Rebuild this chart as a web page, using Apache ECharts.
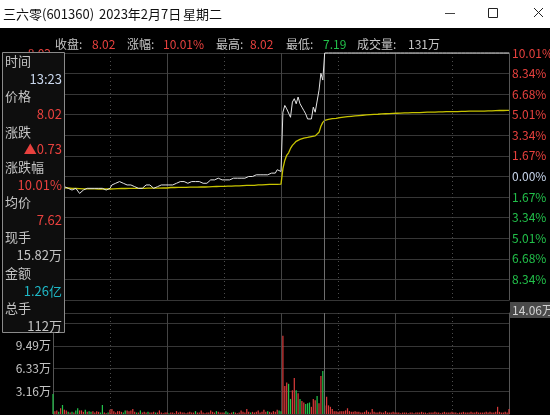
<!DOCTYPE html>
<html><head><meta charset="utf-8">
<script src="https://cdn.jsdelivr.net/npm/echarts@6/dist/echarts.min.js"></script>
<style>html,body{margin:0;padding:0;background:#000;}#c{width:550px;height:415px;}</style>
</head><body><div id="c"></div>
<script>
// ---------- data ----------
const prevClose = 7.29;
const priceMin = 6.56;
const priceMax = 8.02;
const priceStep = 0.1217;
const volMax = 14.06;
const volStep = 3.1625;

// minute prices 09:30 .. 15:00 (241 points)
const prices = [
7.23,7.22,7.23,7.22,7.23,7.22,7.23,7.23,7.22,7.22,
7.21,7.21,7.22,7.23,7.19,7.20,7.21,7.21,7.22,7.22,
7.22,7.23,7.22,7.21,7.22,7.22,7.22,7.21,7.21,7.22,
7.22,7.24,7.25,7.25,7.25,7.26,7.26,7.25,7.24,7.24,
7.25,7.24,7.23,7.23,7.22,7.22,7.22,7.22,7.23,7.24,
7.24,7.24,7.23,7.22,7.23,7.23,7.24,7.24,7.24,7.24,
7.24,7.24,7.24,7.24,7.24,7.25,7.25,7.26,7.26,7.26,
7.25,7.25,7.26,7.26,7.25,7.26,7.26,7.26,7.26,7.25,
7.25,7.25,7.26,7.27,7.27,7.27,7.27,7.28,7.27,7.27,
7.27,7.27,7.27,7.27,7.27,7.28,7.28,7.28,7.28,7.28,
7.28,7.28,7.29,7.29,7.29,7.29,7.29,7.30,7.30,7.30,
7.30,7.30,7.31,7.30,7.31,7.31,7.31,7.31,7.33,7.32,
7.32,7.67,7.71,7.69,7.70,7.64,7.73,7.75,7.72,7.76,
7.72,7.70,7.68,7.66,7.63,7.62,7.63,7.70,7.67,7.66,
7.80,7.90,7.86,8.02,8.02,8.02,8.02,8.02,8.02,8.02,
8.02,8.02,8.02,8.02,8.02,8.02,8.02,8.02,8.02,8.02,
8.02,8.02,8.02,8.02,8.02,8.02,8.02,8.02,8.02,8.02,
8.02,8.02,8.02,8.02,8.02,8.02,8.02,8.02,8.02,8.02,
8.02,8.02,8.02,8.02,8.02,8.02,8.02,8.02,8.02,8.02,
8.02,8.02,8.02,8.02,8.02,8.02,8.02,8.02,8.02,8.02,
8.02,8.02,8.02,8.02,8.02,8.02,8.02,8.02,8.02,8.02,
8.02,8.02,8.02,8.02,8.02,8.02,8.02,8.02,8.02,8.02,
8.02,8.02,8.02,8.02,8.02,8.02,8.02,8.02,8.02,8.02,
8.02,8.02,8.02,8.02,8.02,8.02,8.02,8.02,8.02,8.02,
8.02
];

// average price line
const avgPrices = [
7.230,7.228,7.226,7.225,7.225,7.224,7.223,7.223,7.222,7.221,
7.220,7.219,7.219,7.219,7.218,7.217,7.217,7.217,7.217,7.217,
7.217,7.217,7.217,7.216,7.216,7.216,7.216,7.216,7.216,7.216,
7.216,7.217,7.217,7.218,7.218,7.219,7.219,7.219,7.219,7.219,
7.220,7.220,7.220,7.220,7.220,7.220,7.220,7.220,7.220,7.220,
7.221,7.221,7.221,7.221,7.221,7.221,7.221,7.222,7.222,7.222,
7.222,7.224,7.225,7.225,7.225,7.226,7.226,7.226,7.226,7.226,
7.226,7.226,7.227,7.227,7.227,7.227,7.227,7.227,7.228,7.228,
7.228,7.228,7.229,7.229,7.230,7.230,7.231,7.232,7.232,7.232,
7.232,7.233,7.233,7.233,7.233,7.234,7.234,7.234,7.235,7.235,
7.236,7.236,7.237,7.237,7.237,7.238,7.238,7.239,7.240,7.240,
7.241,7.241,7.242,7.242,7.243,7.243,7.243,7.244,7.244,7.245,
7.245,7.337,7.385,7.415,7.430,7.456,7.474,7.486,7.498,7.504,
7.509,7.513,7.517,7.519,7.521,7.524,7.526,7.527,7.530,7.536,
7.551,7.587,7.610,7.622,7.626,7.628,7.630,7.632,7.633,7.634,
7.636,7.638,7.640,7.641,7.642,7.644,7.645,7.646,7.647,7.648,
7.649,7.650,7.651,7.652,7.653,7.654,7.655,7.656,7.656,7.657,
7.658,7.658,7.659,7.660,7.660,7.661,7.661,7.662,7.662,7.663,
7.663,7.664,7.664,7.665,7.665,7.666,7.666,7.666,7.667,7.667,
7.667,7.668,7.668,7.668,7.669,7.669,7.669,7.670,7.670,7.670,
7.671,7.671,7.671,7.672,7.672,7.672,7.672,7.673,7.673,7.673,
7.673,7.674,7.674,7.674,7.674,7.675,7.675,7.675,7.675,7.676,
7.676,7.676,7.676,7.677,7.677,7.677,7.677,7.677,7.678,7.678,
7.678,7.678,7.678,7.679,7.680,7.680,7.680,7.680,7.681,7.681,
7.681
];

// minute volume (万)
const volumes = [
2.8,0.4,0.5,0.3,0.8,1.25,0.6,0.5,0.3,0.2,
0.3,0.2,0.5,0.8,0.5,0.5,0.3,0.6,0.3,0.4,
0.3,0.4,0.2,0.4,0.3,0.2,1.25,0.2,0.1,0.2,
0.6,0.7,0.4,0.2,0.4,0.4,0.3,0.2,0.5,0.5,
0.4,0.5,0.7,0.3,0.2,0.2,0.5,0.2,0.3,0.2,
0.3,0.2,0.2,0.3,0.2,0.2,0.5,0.2,0.1,0.2,
0.2,0.1,0.2,0.2,0.1,0.4,0.2,0.3,0.2,0.2,
0.1,0.2,0.3,0.2,0.2,0.4,0.2,0.2,0.5,0.2,
0.1,0.2,0.2,0.5,0.3,0.2,0.4,0.3,0.2,0.2,
0.2,0.4,0.2,0.1,0.2,0.3,0.2,0.1,0.2,0.5,
0.3,0.2,0.7,0.3,0.2,0.3,0.2,0.3,0.5,0.2,
0.3,0.6,0.3,0.4,0.3,0.2,0.4,0.3,0.6,0.5,
0.4,10.9,3.9,4.4,4.2,2.1,3.3,5.0,3.3,2.9,
2.1,1.8,1.6,1.4,1.5,1.6,1.0,2.1,1.9,2.5,
1.5,5.3,6.0,1.2,2.4,1.2,1.0,0.7,0.4,0.4,
0.3,0.4,0.4,0.4,0.5,0.8,0.4,0.3,0.3,0.4,
0.3,0.3,0.2,0.2,0.3,0.5,0.3,0.2,0.7,0.3,
0.2,0.2,0.3,0.2,0.2,0.4,0.2,0.2,0.2,0.3,
0.2,0.2,0.2,0.1,0.2,0.2,0.2,0.1,0.2,0.2,
0.1,0.2,0.2,0.2,0.3,0.2,0.2,0.1,0.2,0.2,
0.2,0.3,0.2,0.2,0.1,0.2,0.3,0.2,0.2,0.2,
0.3,0.2,0.2,0.1,0.2,0.2,0.3,0.2,0.2,0.2,
0.3,0.2,0.2,0.3,0.2,0.2,0.2,0.2,0.3,0.2,
0.3,0.2,0.2,0.3,1.0,0.3,0.2,0.2,0.3,0.2,
0.7
];

// minutes whose volume bar is green (down)
const greenBars = [0,3,5,8,10,12,13,17,19,20,25,26,29,37,38,44,46,50,54,61,75,86,91,92,95,104,113,119,120,124,125,128,130,133,134,135,139,142];

// tick labels (bottom -> top)
const priceLabels = ['6.56','6.68','6.80','6.92','7.05','7.17','7.29','7.41','7.54','7.66','7.78','7.90','8.02'];
const pctLabels = ['','8.34%','6.68%','5.01%','3.34%','1.67%','0.00%','1.67%','3.34%','5.01%','6.68%','8.34%','10.01%'];
const volLabels = ['','3.16万','6.33万','9.49万','12.65万'];

// vertical guide times
const dashTimes = ['10:00','11:00','13:30','14:30'];
const solidTimes = ['10:30','11:30','14:00'];
const cursorTime = '13:23';

// ---------- build ----------
function hm(t){const h=Math.floor(t/60),m=t%60;return (h<10?'0':'')+h+':'+(m<10?'0':'')+m;}
const times=[];
for(let t=9*60+30;t<=11*60+30;t++)times.push(hm(t));
for(let t=13*60+1;t<=15*60;t++)times.push(hm(t));

const FONT='"Noto Sans CJK SC","Microsoft YaHei",sans-serif';
const RED='#e8413e', GREEN='#22c04a', PALE='#c8d6ec', GRAY='#c4c4c4', CYAN='#1fb8c6';
const GRID_LINE='#363636';

const markLine={symbol:['none','none'],silent:true,label:{show:false},animation:false,
  data:[{xAxis:cursorTime,lineStyle:{color:'#6e6e6e',type:'solid',width:1}}]};

function tickIdx(v,min,step){return Math.round((v-min)/step);}

const chart=echarts.init(document.getElementById('c'),null,{renderer:'canvas'});

const txt=(x,y,text,fill,size,align)=>({type:'text',x:x,y:y,silent:true,z:110,
  style:{text:text,fill:fill,font:size+'px '+FONT,align:align||'left',verticalAlign:'middle'}});

const panelRows=[
  ['时间','13:23',PALE],['价格','8.02',RED],['涨跌','▲0.73',RED],['涨跌幅','10.01%',RED],
  ['均价','7.62',RED],['现手','15.82万',GRAY],['金额','1.26亿',CYAN],['总手','112万',GRAY]
];
const panelChildren=[{type:'rect',z:100,shape:{x:2.5,y:52.5,width:62,height:280},style:{fill:'#0e0e0e',stroke:'#8a8a8a',lineWidth:1}}];
panelRows.forEach((r,i)=>{
  const y0=61+i*35.3;
  panelChildren.push(txt(5,y0,r[0],GRAY,13,'left'));
  panelChildren.push(txt(62,y0+17.8,r[1],r[2],13,'right'));
});

const graphics=[
  {type:'rect',silent:true,shape:{x:0,y:0,width:550,height:28},style:{fill:'#ffffff'}},
  txt(3,14,'三六零(601360)','#111',13),
  txt(99,14,'2023年2月7日','#111',13),
  txt(183,14,'星期二','#111',13),
  {type:'line',silent:true,shape:{x1:445,y1:13.5,x2:455,y2:13.5},style:{stroke:'#444',lineWidth:1}},
  {type:'rect',silent:true,shape:{x:488.5,y:8.5,width:9,height:9},style:{fill:'none',stroke:'#222',lineWidth:1}},
  {type:'line',silent:true,shape:{x1:534,y1:8,x2:543,y2:17},style:{stroke:'#222',lineWidth:1}},
  {type:'line',silent:true,shape:{x1:543,y1:8,x2:534,y2:17},style:{stroke:'#222',lineWidth:1}},
  txt(55,44,'收盘:',GRAY,12), txt(92,44,'8.02',RED,12),
  txt(127,44,'涨幅:',GRAY,12), txt(163,44,'10.01%',RED,12),
  txt(216,44,'最高:',GRAY,12), txt(250,44,'8.02',RED,12),
  txt(286,44,'最低:',GRAY,12), txt(323,44,'7.19',GREEN,12),
  txt(357,44,'成交量:',GRAY,12), txt(408,44,'131万',GRAY,12),
  {type:'group',children:panelChildren},
  {type:'rect',silent:true,z:100,shape:{x:510,y:302,width:40,height:16},style:{fill:'#4a4a4a'}},
  txt(512,310,'14.06万','#d2d2d2',12)
];

const rich={r:{color:RED,fontSize:12,fontFamily:FONT},g:{color:GREEN,fontSize:12,fontFamily:FONT},w:{color:PALE,fontSize:12,fontFamily:FONT},v:{color:GRAY,fontSize:12,fontFamily:FONT}};
function cls(k){return k<6?'g':(k===6?'w':'r');}

function xAx(grid,list,style){
  return {type:'category',gridIndex:grid,data:times,boundaryGap:false,
    axisLine:{show:false},axisTick:{show:false},axisLabel:{show:false},
    splitLine:{show:true,interval:(i,v)=>list.indexOf(v)>=0,lineStyle:style}};
}
const solidStyle={color:'#444',type:'solid',width:1};
const dashStyle={color:'#4c4c4c',type:[1,3],width:1};

const option={
  backgroundColor:'#000',
  animation:false,
  grid:[
    {left:53,right:41,top:53,height:247,outerBoundsMode:'none',containLabel:false},
    {left:53,right:41,top:313,height:101,outerBoundsMode:'none',containLabel:false}
  ],
  xAxis:[
    xAx(0,solidTimes,solidStyle),
    xAx(1,solidTimes,solidStyle),
    xAx(0,dashTimes,dashStyle),
    xAx(1,dashTimes,dashStyle)
  ],
  yAxis:[
    {type:'value',gridIndex:0,position:'left',min:priceMin,max:priceMax,interval:priceStep,
     axisLine:{show:true,onZero:false,lineStyle:{color:'#555'}},axisTick:{show:false},
     splitLine:{show:true,lineStyle:{color:GRID_LINE,width:1}},
     axisLabel:{margin:2,rich:rich,formatter:v=>{const k=tickIdx(v,priceMin,priceStep);return '{'+cls(k)+'|'+priceLabels[k]+'}';}}},
    {type:'value',gridIndex:0,position:'right',min:priceMin,max:priceMax,interval:priceStep,
     axisLine:{show:true,onZero:false,lineStyle:{color:'#555'}},axisTick:{show:false},splitLine:{show:false},
     axisLabel:{margin:3,rich:rich,formatter:v=>{const k=tickIdx(v,priceMin,priceStep);const s=pctLabels[k]||'';return s?'{'+cls(k)+'|'+s+'}':'';}}},
    {type:'value',gridIndex:1,position:'left',min:0,max:volMax,interval:volStep,
     axisLine:{show:true,onZero:false,lineStyle:{color:'#555'}},axisTick:{show:false},
     splitLine:{show:true,lineStyle:{color:GRID_LINE,width:1}},
     axisLabel:{margin:2,rich:rich,formatter:v=>{if(Math.abs(v-volMax)<1e-6)return '';const s=volLabels[tickIdx(v,0,volStep)]||'';return s?'{v|'+s+'}':'';}}},
    {type:'value',gridIndex:1,position:'right',min:0,max:volMax,
     axisLine:{show:true,onZero:false,lineStyle:{color:'#555'}},axisTick:{show:false},splitLine:{show:false},axisLabel:{show:false}}
  ],
  series:[
    {type:'line',name:'价格',xAxisIndex:0,yAxisIndex:0,data:prices,showSymbol:false,clip:false,
     lineStyle:{color:'#e4e4e4',width:1},z:5,markLine:markLine},
    {type:'line',name:'均价',xAxisIndex:0,yAxisIndex:0,data:avgPrices,showSymbol:false,clip:false,
     lineStyle:{color:'#c8c400',width:1.3},z:4},
    {type:'bar',name:'成交量',xAxisIndex:1,yAxisIndex:2,barWidth:'65%',
     data:volumes.map((v,i)=>({value:v,itemStyle:{color:greenBars.indexOf(i)>=0?GREEN:'#d83a3a'}})),
     markLine:markLine}
  ],
  graphic:graphics
};
chart.setOption(option);
</script>
</body></html>
